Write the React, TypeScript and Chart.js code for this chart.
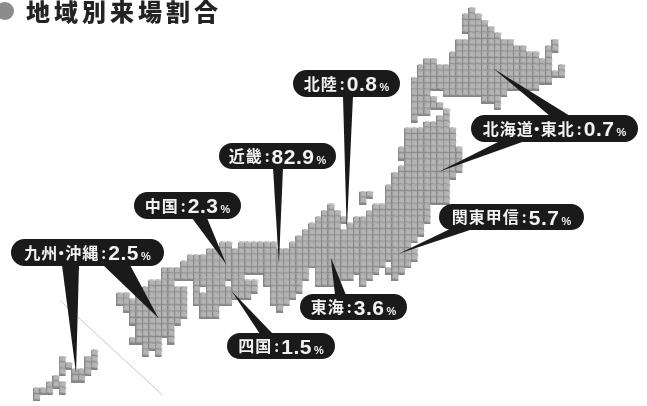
import React, { useEffect, useRef } from "react";
import { Chart, registerables } from "chart.js";

Chart.register(...registerables);

const WIDTH = 647;
const HEIGHT = 406;
const TITLE = "地域別来場割合";

// Visitor share per region, in percent.
const regions = ["北陸", "近畿", "中国", "九州・沖縄", "四国", "東海", "関東甲信", "北海道・東北"];
const shares = [0.8, 82.9, 2.3, 2.5, 1.5, 3.6, 5.7, 0.7];

// Leader tips on the block grid: [column, row, region index].
const leaderTips = [
  [53.4, 34.8, 0], [42.8, 40, 1], [34.6, 40, 2], [11.1, 57.2, 3], [24, 48.5, 3],
  [35.4, 44.2, 4], [50.9, 38.9, 5], [61.5, 38.3, 6], [76.3, 9.1, 7], [67.7, 25.4, 7],
];

// Divider that sets Okinawa apart from the mainland.
const dividerLine = [[8.6, 45.7], [24.6, 60.6]];

// Map blocks: [row, firstCol, lastCol, firstCol, lastCol, ...].
const mapRows = [
  [0, 73, 73], [1, 72, 74], [2, 72, 75], [3, 72, 76], [4, 73, 77],
  [5, 71, 79, 86, 86], [6, 71, 81, 85, 86], [7, 70, 83, 85, 85],
  [8, 66, 67, 70, 85], [9, 65, 85, 87, 87], [10, 65, 87], [11, 64, 85], [12, 64, 83],
  [13, 64, 66, 69, 78], [14, 64, 67, 75, 77], [15, 64, 68, 77, 77], [16, 64, 66, 69, 69],
  [17, 64, 64, 68, 69], [18, 66, 69], [19, 63, 70], [20, 63, 70], [21, 63, 70],
  [22, 62, 71], [23, 62, 71], [24, 63, 71], [25, 62, 71], [26, 61, 70], [27, 61, 69],
  [28, 60, 69], [29, 56, 57, 60, 69], [30, 56, 56, 60, 69], [31, 51, 51, 58, 66],
  [32, 50, 52, 57, 66], [33, 49, 53, 55, 66], [34, 48, 52, 54, 65], [35, 47, 65], [36, 46, 64],
  [37, 34, 35, 37, 42, 45, 63], [38, 32, 64], [39, 29, 64], [40, 28, 59, 61, 63],
  [41, 25, 47, 49, 58, 60, 62], [42, 25, 37, 41, 47, 49, 54, 56, 57, 61, 61],
  [43, 23, 26, 30, 34, 36, 39, 41, 46, 49, 52, 56, 56],
  [44, 22, 28, 30, 30, 32, 39, 42, 46], [45, 18, 19, 21, 28, 30, 38, 42, 45],
  [46, 18, 28, 30, 35, 42, 44], [47, 19, 28, 31, 33, 43, 43], [48, 20, 28, 31, 33],
  [49, 20, 27], [50, 21, 26], [51, 21, 26], [52, 20, 24, 26, 26], [53, 22, 24],
  [54, 14, 14, 22, 22, 24, 24], [55, 9, 9, 13, 14], [56, 9, 10, 13, 14],
  [57, 9, 9, 11, 13], [58, 8, 8, 11, 12], [59, 7, 9], [60, 5, 7, 9, 9], [61, 5, 5],
];

const mapCells: { x: number; y: number }[] = [];
for (const [row, ...spans] of mapRows) {
  for (let i = 0; i < spans.length; i += 2) {
    for (let col = spans[i]; col <= spans[i + 1]; col++) mapCells.push({ x: col, y: row });
  }
}

// Pill boxes in canvas pixels: left, top, right, bottom, one per region.
const pillBoxes = [
  [293, 70, 400, 97], [219, 143, 336, 169], [134, 192, 241, 219], [11, 239, 164, 266],
  [227, 333, 335, 359], [300, 294, 407, 320], [439, 204, 584, 230], [471, 115, 638, 142],
];
// Where each leader leaves its pill: left and right x, in leaderTips order.
const leaderBases = [
  [343, 353], [273, 283], [192, 207], [62, 79], [103, 130],
  [260, 273], [335, 346], [450, 473], [550, 570], [500, 525],
];

// One cube: a darker body with a slightly turned lighter top face.
function blockSprite() {
  const c = document.createElement("canvas");
  c.width = 8;
  c.height = 8;
  const g = c.getContext("2d")!;
  g.fillStyle = "#868686";
  g.fillRect(0, 1, 7, 7);
  g.fillStyle = "#b4b4b4";
  g.beginPath();
  g.moveTo(1.5, 0);
  g.lineTo(7.5, 0.8);
  g.lineTo(6.7, 6);
  g.lineTo(0.8, 5.2);
  g.closePath();
  g.fill();
  return c;
}

const NAME_FONT = 'bold 16px "Noto Sans CJK JP"';
const COLON_FONT = 'bold 15px "Noto Sans CJK JP"';
const VALUE_FONT = 'bold 21px "Liberation Sans"';
const UNIT_FONT = 'bold 11px "Liberation Sans"';
const DOT_ADVANCE = 7;

function setText(ctx: CanvasRenderingContext2D, font: string, gap: string) {
  ctx.font = font;
  (ctx as any).letterSpacing = gap;
}

// Names are set with a narrow middle dot, so each piece is placed on its own.
function nameWidth(ctx: CanvasRenderingContext2D, name: string) {
  setText(ctx, NAME_FONT, "1px");
  return name
    .split(/(・)/)
    .reduce((w, piece) => w + (piece === "・" ? DOT_ADVANCE : ctx.measureText(piece).width), 0);
}

function drawName(ctx: CanvasRenderingContext2D, name: string, x: number, y: number) {
  setText(ctx, NAME_FONT, "1px");
  for (const piece of name.split(/(・)/)) {
    if (piece === "・") {
      ctx.fillText(piece, x - (ctx.measureText(piece).width - DOT_ADVANCE) / 2, y);
      x += DOT_ADVANCE;
    } else {
      ctx.fillText(piece, x, y);
      x += ctx.measureText(piece).width;
    }
  }
}

function drawPill(ctx: CanvasRenderingContext2D, i: number) {
  const [l, t, r, b] = pillBoxes[i];
  const h = b - t;
  ctx.fillStyle = "#1a1a1a";
  ctx.beginPath();
  ctx.roundRect(l, t, r - l, h, h / 2);
  ctx.fill();

  const value = shares[i].toFixed(1);
  const nameW = nameWidth(ctx, regions[i]);
  setText(ctx, COLON_FONT, "0px");
  const colonW = ctx.measureText(":").width;
  setText(ctx, VALUE_FONT, "0.5px");
  const valueW = ctx.measureText(value).width;
  setText(ctx, UNIT_FONT, "0px");
  const unitW = ctx.measureText("%").width;

  let x = (l + r - (nameW + colonW + valueW + unitW + 6)) / 2;
  const base = t + h / 2 + 7.5;
  ctx.textAlign = "left";
  ctx.textBaseline = "alphabetic";
  ctx.fillStyle = "#f2f2f2";

  drawName(ctx, regions[i], x, base - 1.5);
  x += nameW + 2;
  setText(ctx, COLON_FONT, "0px");
  ctx.fillText(":", x, base - 1.5);
  x += colonW + 2;
  setText(ctx, VALUE_FONT, "0.5px");
  ctx.fillText(value, x, base);
  x += valueW + 2;
  setText(ctx, UNIT_FONT, "0px");
  ctx.fillText("%", x, base);
  (ctx as any).letterSpacing = "0px";
}

const calloutPlugin = {
  id: "callouts",
  afterDatasetsDraw(chart: Chart) {
    const { ctx } = chart;
    const tips = chart.getDatasetMeta(1).data;
    ctx.save();

    // Heading with its round bullet.
    ctx.fillStyle = "#8c8c8c";
    ctx.beginPath();
    ctx.arc(5, 11, 9, 0, Math.PI * 2);
    ctx.fill();
    ctx.fillStyle = "#232323";
    setText(ctx, '900 24px "Noto Sans CJK JP"', "4px");
    ctx.textBaseline = "alphabetic";
    ctx.fillText(TITLE, 26, 21);
    (ctx as any).letterSpacing = "0px";

    // Wedge leaders run from the pill edge nearest the map point to the tip.
    ctx.fillStyle = "#1a1a1a";
    leaderTips.forEach(([, , region], k) => {
      const tip = tips[k];
      const [, t, , b] = pillBoxes[region];
      const edge = tip.y > b ? b - 1 : t + 1;
      const [x0, x1] = leaderBases[k];
      ctx.beginPath();
      ctx.moveTo(x0, edge);
      ctx.lineTo(x1, edge);
      ctx.lineTo(tip.x, tip.y);
      ctx.closePath();
      ctx.fill();
    });

    regions.forEach((_, i) => drawPill(ctx, i));
    ctx.restore();
  },
};

export default function App() {
  const ref = useRef<HTMLCanvasElement>(null);
  useEffect(() => {
    const chart = new Chart(ref.current!, {
      type: "scatter",
      data: {
        datasets: [
          {
            label: "地図",
            data: mapCells,
            pointStyle: blockSprite() as any,
            pointRadius: 3,
          },
          {
            label: "引き出し先",
            data: leaderTips.map(([x, y]) => ({ x, y })),
            pointRadius: 0,
          },
          {
            label: "区切り線",
            data: dividerLine.map(([x, y]) => ({ x, y })),
            showLine: true,
            borderColor: "#c6c6c6",
            borderWidth: 1,
            pointRadius: 0,
          },
        ],
      },
      options: {
        animation: false,
        responsive: false,
        devicePixelRatio: 1,
        layout: { padding: 0 },
        plugins: { legend: { display: false }, tooltip: { enabled: false } },
        scales: {
          x: { type: "linear", display: false, min: 0, max: WIDTH / 6.5 },
          y: { type: "linear", display: false, reverse: true, min: -6 / 6.5, max: (HEIGHT - 6) / 6.5 },
        },
      },
      plugins: [calloutPlugin],
    });
    return () => chart.destroy();
  }, []);
  return (
    <div style={{ position: "absolute", left: 0, top: 0, width: WIDTH, height: HEIGHT, background: "#fff" }}>
      <canvas ref={ref} width={WIDTH} height={HEIGHT} style={{ display: "block" }} />
    </div>
  );
}
